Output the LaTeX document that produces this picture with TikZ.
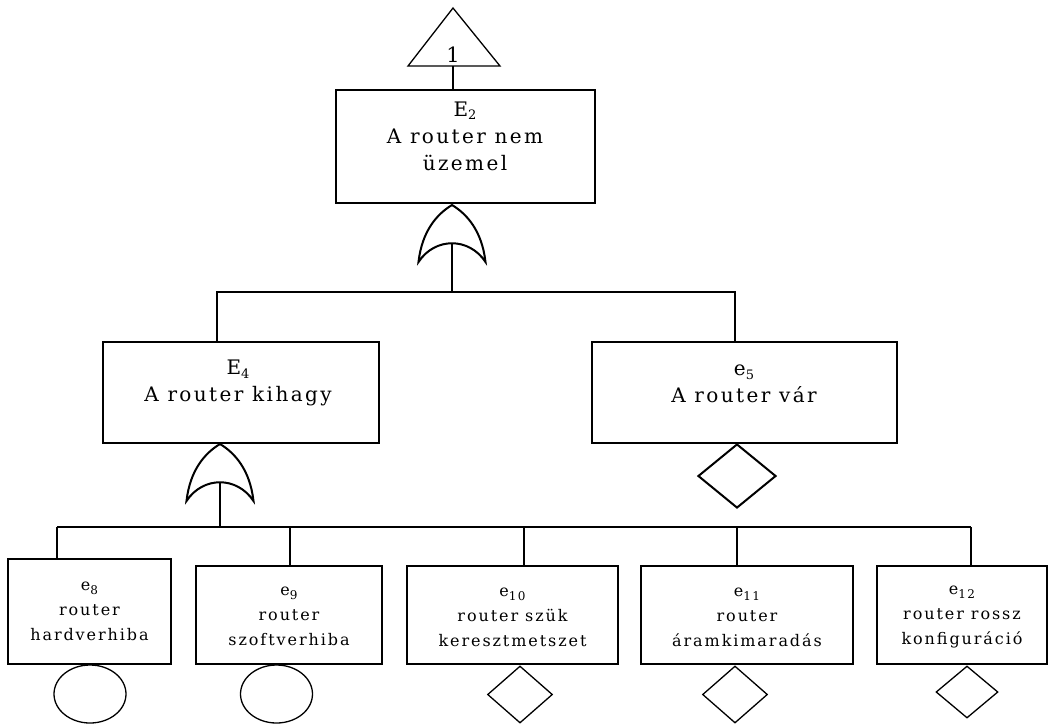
\documentclass[tikz,border=0pt]{standalone}
\usepackage{fontspec}
\setmainfont{DejaVu Serif}
\newfontfamily\bigfont{DejaVu Serif}[LetterSpace=12]
\newfontfamily\smallfont{DejaVu Serif}[LetterSpace=12]
\usetikzlibrary{shapes.geometric}
% lowered indices for the event labels
\newcommand\idxbig[1]{\raisebox{-3.5pt}{\fontsize{13}{13}\selectfont #1}}
\newcommand\idxsmall[1]{\raisebox{-4pt}{\fontsize{12}{12}\selectfont #1}}
\begin{document}
\begin{tikzpicture}[x=1pt,y=-1pt,
  box/.style={draw, line width=1.3pt, rectangle, inner sep=0pt},
  bigtext/.style={align=center, font=\bigfont\fontsize{20}{27}\selectfont, inner sep=0pt},
  smalltext/.style={align=center, font=\smallfont\fontsize{16}{25}\selectfont, inner sep=0pt},
  wire/.style={line width=1.3pt},
  gatestroke/.style={line width=2pt, line join=miter},
  basic/.style={draw, ellipse, line width=1.3pt, minimum width=72pt, minimum height=58pt, inner sep=0pt},
  undev/.style={draw, diamond, line width=1.3pt, inner sep=0pt},
  orgate/.pic={
    \draw[gatestroke] (-33.5,57) .. controls (-30,26) and (-15,9) .. (0,0)
      .. controls (15,9) and (30,26) .. (33.5,57)
      .. controls (17,32) and (-17,32) .. cycle;
    \coordinate (-out) at (0,0);
    \coordinate (-in) at (0,38);
  }
]
\useasboundingbox (0,0) rectangle (1058,724);

% transfer symbol
\draw[wire] (408,66) -- (453,8) -- (500,66) -- cycle;
\coordinate (T) at (453,66);
\node[font=\fontsize{21}{24}\selectfont, inner sep=0pt] (Tlabel) at (453,55) {1};

% top event
\node[box, minimum width=259pt, minimum height=113pt] (E2) at (465.5,146.5) {};
\node[bigtext] (E2t) at (465,136) {E\idxbig{2}\\A router nem\\üzemel};
\draw[wire] (T) -- (E2.north -| T);

% first OR gate and bus
\pic (g1) at (452,205) {orgate};
\coordinate (bus1) at (452,292);
\draw[wire] (g1-in) -- (bus1);

% intermediate events
\node[box, minimum width=276pt, minimum height=101pt] (E4) at (241,392.5) {};
\node[bigtext] (E4t) at (238,383) {E\idxbig{4}\\A router kihagy};
\node[box, minimum width=305pt, minimum height=101pt] (e5) at (744.5,392.5) {};
\node[bigtext] (e5t) at (744,384) {e\idxbig{5}\\A router vár};
\coordinate (E4in) at (217,342);
\coordinate (e5in) at (735,342);
\draw[wire] (E4in) -- (E4in |- bus1) -- (e5in |- bus1) -- (e5in);
\node[undev, line width=2pt, minimum width=78pt, minimum height=64pt] (d5) at (737,476) {};

% second OR gate and bus
\pic (g2) at (220,444) {orgate};
\coordinate (bus2) at (220,527);
\draw[wire] (g2-in) -- (bus2);

% basic and undeveloped events
\node[box, minimum width=163pt, minimum height=105pt] (e8) at (89.5,611.5) {};
\node[smalltext] (e8t) at (89.5,611) {e\idxsmall{8}\\router\\hardverhiba};
\node[box, minimum width=186pt, minimum height=98pt] (e9) at (289,615) {};
\node[smalltext] (e9t) at (289,616) {e\idxsmall{9}\\router\\szoftverhiba};
\node[box, minimum width=211pt, minimum height=98pt] (e10) at (512.5,615) {};
\node[smalltext] (e10t) at (512.5,617) {e\idxsmall{10}\\router szük\\keresztmetszet};
\node[box, minimum width=212pt, minimum height=98pt] (e11) at (747,615) {};
\node[smalltext] (e11t) at (747,617) {e\idxsmall{11}\\router\\áramkimaradás};
\node[box, minimum width=170pt, minimum height=98pt] (e12) at (962,615) {};
\node[smalltext] (e12t) at (962,617) {e\idxsmall{12}\\router rossz\\konfiguráció};

\coordinate (e8in) at (57,559);
\coordinate (e9in) at (290,566);
\coordinate (e10in) at (524,566);
\coordinate (e11in) at (737,566);
\coordinate (e12in) at (971,566);
\draw[wire] (e8in |- bus2) -- (e12in |- bus2);
\foreach \k in {e8in,e9in,e10in,e11in,e12in}
  \draw[wire] (\k |- bus2) -- (\k);

\node[basic] (c8) at (90,694) {};
\node[basic] (c9) at (276.5,694) {};
\node[undev, minimum width=65pt, minimum height=57pt] (d10) at (520,694.5) {};
\node[undev, minimum width=65pt, minimum height=57pt] (d11) at (735,694.5) {};
\node[undev, minimum width=62pt, minimum height=52pt] (d12) at (967,692) {};
\end{tikzpicture}
\end{document}
